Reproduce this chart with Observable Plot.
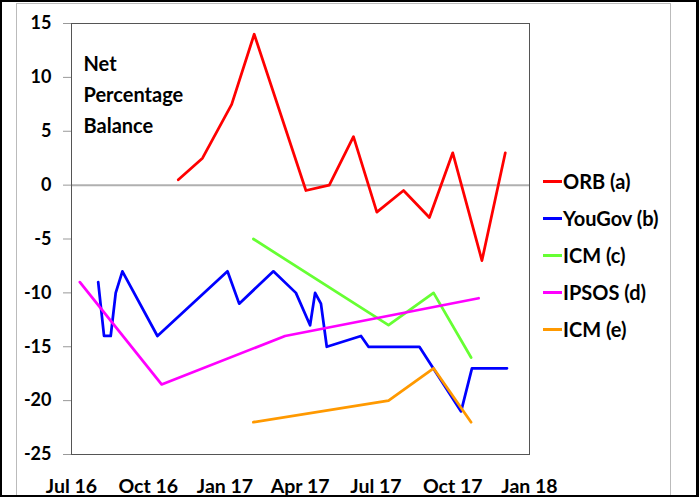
<!DOCTYPE html>
<html>
<head>
<meta charset="utf-8">
<script src="https://cdn.jsdelivr.net/npm/d3@7"></script>
<script src="https://cdn.jsdelivr.net/npm/@observablehq/plot@0.6"></script>
<style>
  html, body { margin: 0; padding: 0; background: #fff; }
  #wrap { position: relative; width: 699px; height: 497px; overflow: hidden; font-family: Lato, "Open Sans", sans-serif; }
  #wrap svg { position: absolute; left: 0; top: 0; }
  .bk { position: absolute; left: 0; top: 0; width: 699px; height: 497px; box-sizing: border-box; border: 2px solid #000; border-right-width: 3px; }
  .gy { position: absolute; left: 16px; top: 3px; width: 655px; height: 500px; box-sizing: border-box; border: 1px solid #bbb; }
  .leg { position: absolute; left: 543px; display: flex; align-items: center; font-weight: bold; font-size: 20px; color: #000; }
  .leg span.sw { display: inline-block; width: 19px; height: 3px; margin-right: 1px; }
</style>
</head>
<body>
<div id="wrap">
  <div class="gy"></div>
  <div class="bk"></div>
</div>
<script>
const orbDates = ["2016-11-06","2016-12-05","2017-01-09","2017-02-05","2017-04-08","2017-05-06","2017-06-04","2017-07-02","2017-08-03","2017-09-03","2017-10-01","2017-11-05","2017-12-03"];
const orbValues = [0.5, 2.5, 7.5, 14, -0.5, 0, 4.5, -2.5, -0.5, -3, 3, -7, 3];

const yougovDates = ["2016-08-02","2016-08-09","2016-08-17","2016-08-23","2016-08-31","2016-10-12","2017-01-04","2017-01-18","2017-02-28","2017-03-27","2017-04-13","2017-04-19","2017-04-26","2017-05-03","2017-06-13","2017-06-22","2017-08-22","2017-10-11","2017-10-24","2017-12-05"];
const yougovValues = [-9, -14, -14, -10, -8, -14, -8, -11, -8, -10, -13, -10, -11, -15, -14, -15, -15, -21, -17, -17];

const icmCDates = ["2017-02-04","2017-07-16","2017-09-08","2017-10-23"];
const icmCValues = [-5, -13, -10, -16];

const ipsosDates = ["2016-07-11","2016-10-17","2017-03-14","2017-11-01"];
const ipsosValues = [-9, -18.5, -14, -10.5];

const icmEDates = ["2017-02-04","2017-07-16","2017-09-08","2017-10-23"];
const icmEValues = [-22, -20, -17, -22];

const seriesNames = ["ORB (a)", "YouGov (b)", "ICM (c)", "IPSOS (d)", "ICM (e)"];
const seriesColors = ["#ff0000", "#0000ff", "#66ff33", "#ff00ff", "#ff9900"];

const xTickLabels = ["2016-07-01","2016-10-01","2017-01-01","2017-04-01","2017-07-01","2017-10-01","2018-01-01"];
const yTicks = [-25, -20, -15, -10, -5, 0, 5, 10, 15];
const yAxisTitle = "Net\nPercentage\nBalance";

const parse = d3.utcParse("%Y-%m-%d");
function rows(dates, values, name) {
  return dates.map((d, i) => ({date: parse(d), value: values[i], series: name}));
}
const allSeries = [
  rows(orbDates, orbValues, seriesNames[0]),
  rows(yougovDates, yougovValues, seriesNames[1]),
  rows(icmCDates, icmCValues, seriesNames[2]),
  rows(ipsosDates, ipsosValues, seriesNames[3]),
  rows(icmEDates, icmEValues, seriesNames[4])
];
const xTicks = xTickLabels.map(parse);

const chart = Plot.plot({
  width: 699,
  height: 497,
  marginTop: 23,
  marginRight: 170,
  marginBottom: 43,
  marginLeft: 71,
  style: {fontFamily: "Lato, 'Open Sans', sans-serif", fontSize: "18px", fontWeight: "bold", color: "#000", background: "transparent"},
  x: {type: "utc", domain: [xTicks[0], xTicks[xTicks.length - 1]]},
  y: {domain: [-25, 15]},
  marks: [
    Plot.ruleY([0], {stroke: "#b0b0b0", strokeWidth: 2}),
    Plot.frame({stroke: "#555", strokeWidth: 1}),
    Plot.axisY({ticks: yTicks, tickSize: 8, tickPadding: 12, tickFormat: d => String(d), stroke: "#999", fill: "#000", fontSize: 18, fontWeight: "bold", label: null}),
    Plot.axisX({ticks: xTicks, tickSize: 0, tickPadding: 25, tickFormat: d3.utcFormat("%b %y"), fill: "#000", fontSize: 19.5, fontWeight: "bold", label: null}),
    ...allSeries.map((s, i) => Plot.line(s, {x: "date", y: "value", stroke: seriesColors[i], strokeWidth: 2.75})),
    Plot.text([yAxisTitle], {text: d => d, frameAnchor: "top-left", textAnchor: "start", lineAnchor: "top", dx: 12, dy: 25, lineHeight: 1.55, fontSize: 20, fontWeight: "bold", fill: "#000"})
  ]
});
const wrap = document.getElementById("wrap");
wrap.insertBefore(chart, wrap.firstChild);

const legendCenters = [181, 218, 255, 292, 329];
seriesNames.forEach((name, i) => {
  const row = document.createElement("div");
  row.className = "leg";
  row.style.top = (legendCenters[i] - 13) + "px";
  row.style.height = "26px";
  const sw = document.createElement("span");
  sw.className = "sw";
  sw.style.background = seriesColors[i];
  row.appendChild(sw);
  row.appendChild(document.createTextNode(name));
  wrap.appendChild(row);
});
</script>
</body>
</html>
